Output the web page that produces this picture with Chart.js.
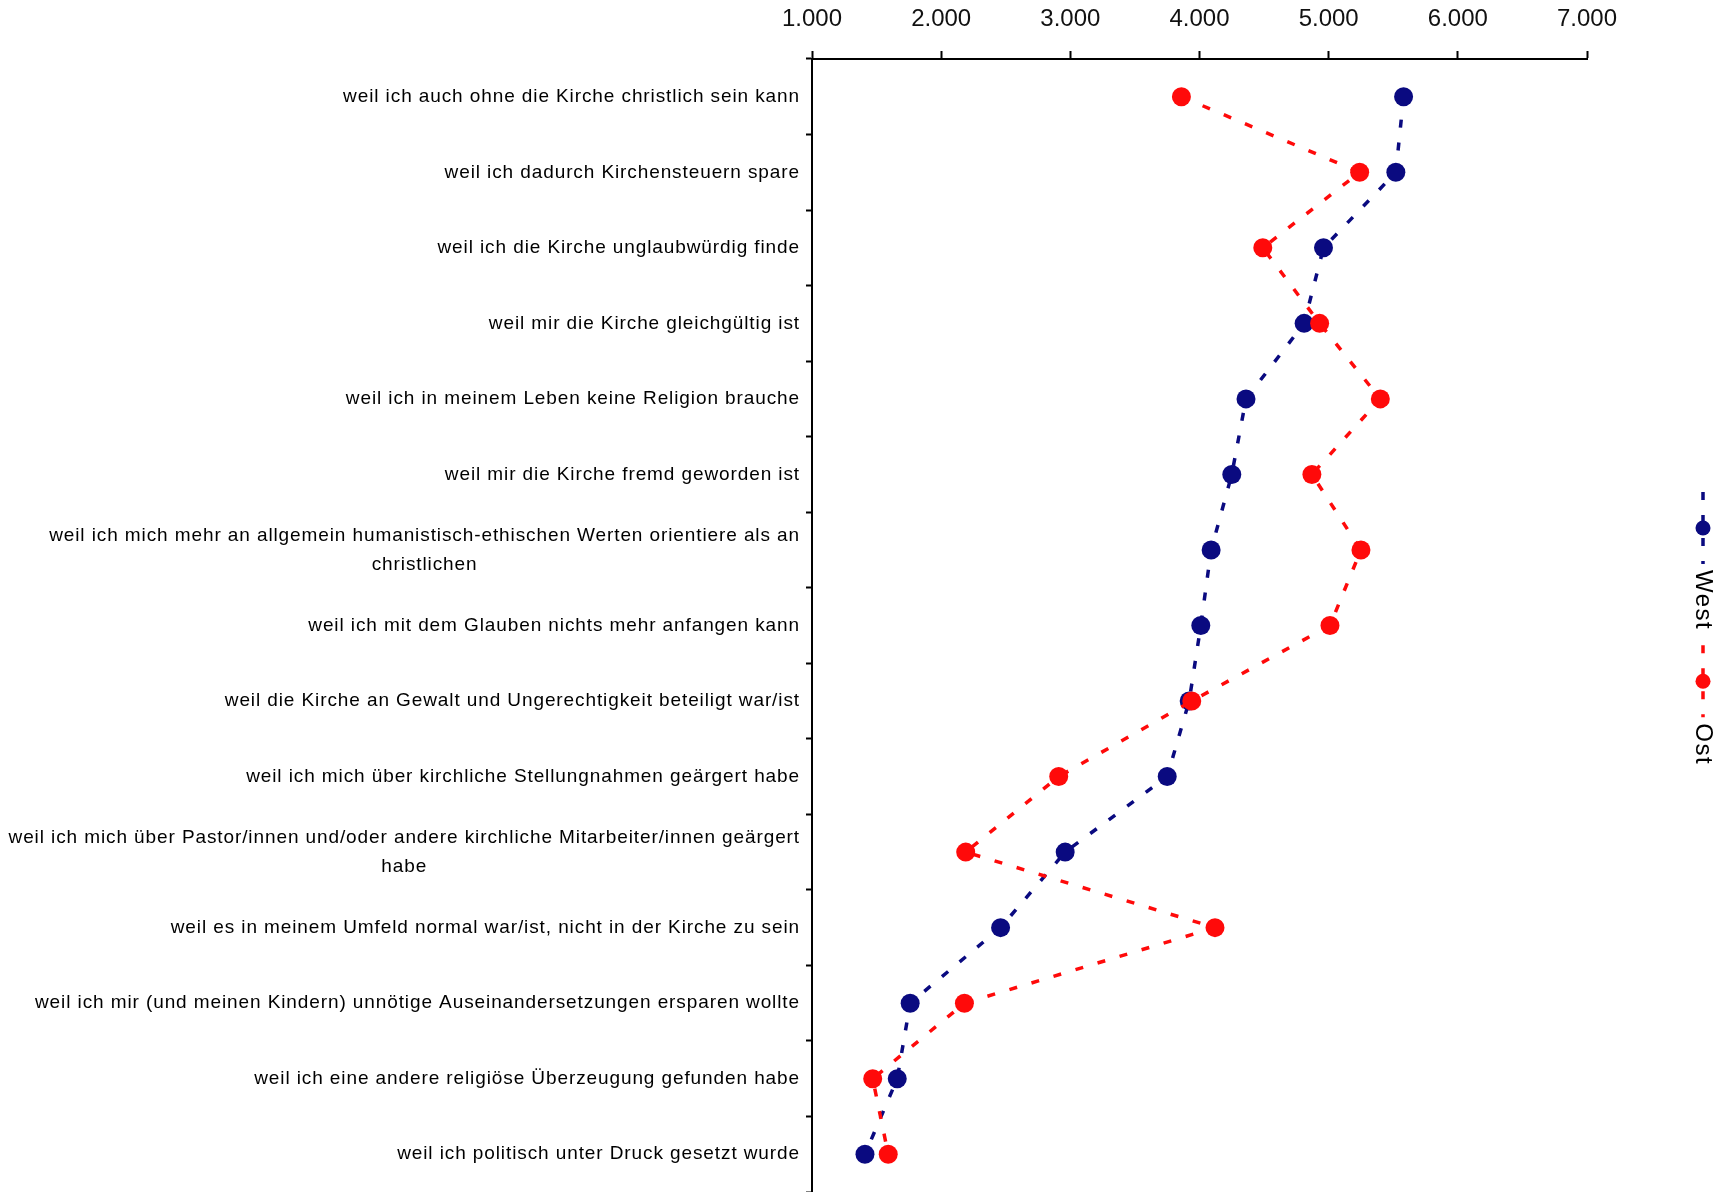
<!DOCTYPE html>
<html>
<head>
<meta charset="utf-8">
<script src="https://cdn.jsdelivr.net/npm/chart.js@4/dist/chart.umd.min.js"></script>
<style>
  html, body { margin: 0; padding: 0; background: #fff; }
  #wrap { width: 1717px; height: 1192px; }
</style>
</head>
<body>
<div id="wrap"><canvas id="reasonChart" width="1717" height="1192"></canvas></div>
<script>
const categories = [
  'weil ich auch ohne die Kirche christlich sein kann',
  'weil ich dadurch Kirchensteuern spare',
  'weil ich die Kirche unglaubwürdig finde',
  'weil mir die Kirche gleichgültig ist',
  'weil ich in meinem Leben keine Religion brauche',
  'weil mir die Kirche fremd geworden ist',
  ['weil ich mich mehr an allgemein humanistisch-ethischen Werten orientiere als an', 'christlichen'],
  'weil ich mit dem Glauben nichts mehr anfangen kann',
  'weil die Kirche an Gewalt und Ungerechtigkeit beteiligt war/ist',
  'weil ich mich über kirchliche Stellungnahmen geärgert habe',
  ['weil ich mich über Pastor/innen und/oder andere kirchliche Mitarbeiter/innen geärgert', 'habe'],
  'weil es in meinem Umfeld normal war/ist, nicht in der Kirche zu sein',
  'weil ich mir (und meinen Kindern) unnötige Auseinandersetzungen ersparen wollte',
  'weil ich eine andere religiöse Überzeugung gefunden habe',
  'weil ich politisch unter Druck gesetzt wurde'
];

const westValues = [5.58, 5.52, 4.96, 4.81, 4.36, 4.25, 4.09, 4.01, 3.92, 3.75, 2.96, 2.46, 1.76, 1.66, 1.41];
const ostValues  = [3.86, 5.24, 4.49, 4.93, 5.40, 4.87, 5.25, 5.01, 3.94, 2.91, 2.19, 4.12, 2.18, 1.47, 1.59];

const xTicks = [1, 2, 3, 4, 5, 6, 7];

const FONT = '"Liberation Sans", Arial, Helvetica, sans-serif';
const WEST_COLOR = '#0a0a80';
const OST_COLOR = '#ff0a0a';
const DASH = [8, 15];

// category labels: first line right aligned, extra lines centred under it
const labelPlugin = {
  id: 'wrappedLabels',
  afterDraw(chart) {
    const { ctx, scales: { y } } = chart;
    ctx.save();
    ctx.font = '19px ' + FONT;
    ctx.letterSpacing = '0.9px';
    ctx.fillStyle = '#000';
    ctx.textAlign = 'center';
    ctx.textBaseline = 'middle';
    categories.forEach((label, i) => {
      const lines = [].concat(label);
      const cy = y.getPixelForValue(i);
      const w = Math.max(...lines.map(l => ctx.measureText(l).width));
      const cx = 800 - w / 2;
      lines.forEach((line, j) => {
        ctx.fillText(line, cx, cy + (j - (lines.length - 1) / 2) * 29);
      });
    });
    ctx.restore();
  }
};

// vertical legend on the right, written top to bottom
const sideLegend = {
  id: 'sideLegend',
  afterDraw(chart) {
    const ctx = chart.ctx;
    ctx.save();
    ctx.translate(1703, 492);
    ctx.rotate(Math.PI / 2);
    ctx.font = '24px ' + FONT;
    ctx.letterSpacing = '1.5px';
    ctx.textBaseline = 'middle';
    ctx.textAlign = 'left';
    let pos = 0;
    chart.data.datasets.forEach(ds => {
      ctx.strokeStyle = ds.borderColor;
      ctx.lineWidth = ds.borderWidth;
      ctx.setLineDash(DASH);
      ctx.beginPath();
      ctx.moveTo(pos, 0);
      ctx.lineTo(pos + 72, 0);
      ctx.stroke();
      ctx.setLineDash([]);
      ctx.fillStyle = ds.pointBackgroundColor;
      ctx.beginPath();
      ctx.arc(pos + 36, 0, 7.5, 0, Math.PI * 2);
      ctx.fill();
      pos += 78;
      ctx.fillStyle = '#000';
      ctx.fillText(ds.label, pos, 0);
      pos += ctx.measureText(ds.label).width + 15;
    });
    ctx.restore();
  }
};

new Chart(document.getElementById('reasonChart'), {
  type: 'line',
  data: {
    labels: categories,
    datasets: [{
      label: 'West',
      data: westValues,
      borderColor: WEST_COLOR,
      pointBackgroundColor: WEST_COLOR,
      borderWidth: 3.5,
      borderDash: DASH,
      pointRadius: 9.5,
      pointBorderWidth: 0,
      order: 2
    }, {
      label: 'Ost',
      data: ostValues,
      borderColor: OST_COLOR,
      pointBackgroundColor: OST_COLOR,
      borderWidth: 3.5,
      borderDash: DASH,
      pointRadius: 9.5,
      pointBorderWidth: 0,
      order: 1
    }]
  },
  options: {
    indexAxis: 'y',
    responsive: false,
    animation: false,
    layout: { autoPadding: false, padding: { right: 130 } },
    plugins: {
      legend: { display: false },
      tooltip: { enabled: false }
    },
    scales: {
      x: {
        type: 'linear',
        position: 'top',
        min: 1,
        max: 7,
        afterBuildTicks: s => { s.ticks = xTicks.map(v => ({ value: v })); },
        afterFit: s => { s.height = 59; },
        border: { color: '#000', width: 2 },
        grid: { drawOnChartArea: false, tickLength: 8, tickWidth: 2, tickColor: '#000' },
        ticks: {
          color: '#111',
          padding: 17,
          font: { family: FONT, size: 24 },
          callback: v => Number(v).toFixed(3)
        }
      },
      y: {
        type: 'category',
        offset: true,
        afterFit: s => { s.width = 812; },
        border: { color: '#000', width: 2 },
        grid: { offset: true, drawOnChartArea: false, tickLength: 6, tickWidth: 2, tickColor: '#000' },
        ticks: { display: false }
      }
    }
  },
  plugins: [labelPlugin, sideLegend]
});
</script>
</body>
</html>
